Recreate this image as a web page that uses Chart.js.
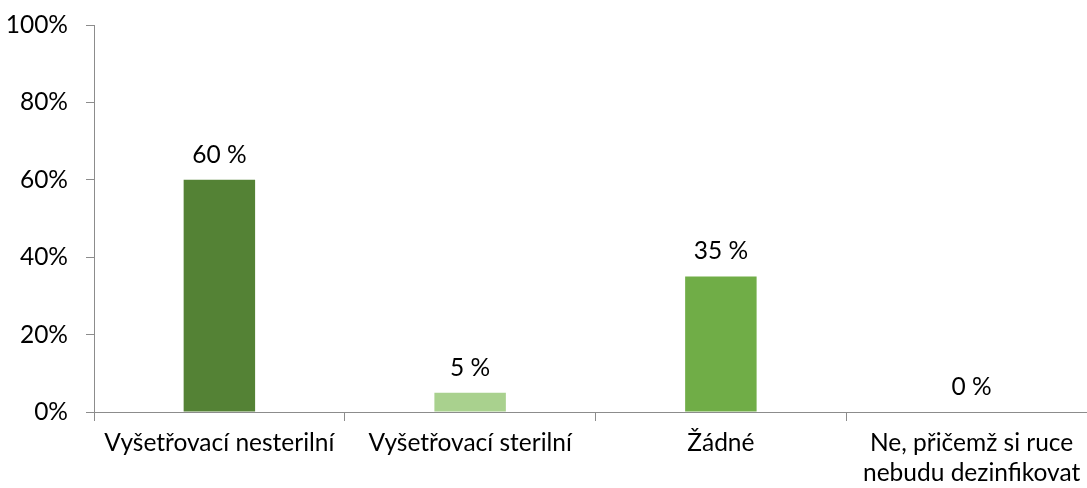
<!DOCTYPE html>
<html><head><meta charset="utf-8">
<script src="https://cdn.jsdelivr.net/npm/chart.js@4/dist/chart.umd.min.js"></script>
<style>html,body{margin:0;padding:0;background:#fff;overflow:hidden;width:1087px;height:488px}
#wrap{width:1100px;height:488px;position:relative}</style>
</head><body><div id="wrap"><canvas id="c"></canvas></div>
<script>
const categories = ["Vyšetřovací nesterilní", "Vyšetřovací sterilní", "Žádné", ["Ne, přičemž si ruce", "nebudu dezinfikovat"]];
const values = [60, 5, 35, 0];
const valueLabels = ["60 %", "5 %", "35 %", "0 %"];
const barColors = ["#548235", "#A9D18E", "#70AD47", "#70AD47"];
const yTicks = [0, 20, 40, 60, 80, 100];
const FONT = "Lato, 'Open Sans', sans-serif";
const FS = 24.5;

const labelPlugin = {
  id: 'valLabels',
  afterDatasetsDraw(chart) {
    const ctx = chart.ctx;
    const meta = chart.getDatasetMeta(0);
    ctx.save();
    ctx.fillStyle = '#000';
    ctx.font = FS + 'px ' + FONT;
    ctx.textAlign = 'center';
    ctx.textBaseline = 'middle';
    meta.data.forEach((bar, i) => {
      ctx.fillText(valueLabels[i], bar.x, bar.y - 25);
    });
    ctx.restore();
  }
};

new Chart(document.getElementById('c'), {
  type: 'bar',
  data: { labels: categories, datasets: [{ data: values, backgroundColor: barColors, categoryPercentage: 1, barPercentage: 0.285 }] },
  options: {
    responsive: true, maintainAspectRatio: false, animation: false,
    layout: { padding: { top: 25, right: 3, left: 0, bottom: 0 } },
    plugins: { legend: { display: false }, tooltip: { enabled: false } },
    scales: {
      x: {
        offset: true,
        grid: { offset: true, drawOnChartArea: false, drawTicks: true, tickLength: 9, color: '#8c8c8c' },
        border: { color: '#8c8c8c', width: 1 },
        ticks: { color: '#000', font: { family: FONT, size: FS, lineHeight: 1.22 }, padding: 7, maxRotation: 0, autoSkip: false },
        afterFit(s) { s.height = 76; s.paddingLeft = 0; s.paddingRight = 0; }
      },
      y: {
        min: 0, max: 100,
        afterBuildTicks(s) { s.ticks = yTicks.map(v => ({ value: v })); },
        grid: { drawOnChartArea: false, drawTicks: true, tickLength: 8, color: '#8c8c8c' },
        border: { color: '#8c8c8c', width: 1 },
        ticks: { color: '#000', font: { family: FONT, size: FS }, padding: 18, callback: v => v + '%' },
        afterFit(s) { s.width = 94; s.paddingTop = 0; s.paddingBottom = 0; }
      }
    }
  },
  plugins: [labelPlugin]
});
</script></body></html>
